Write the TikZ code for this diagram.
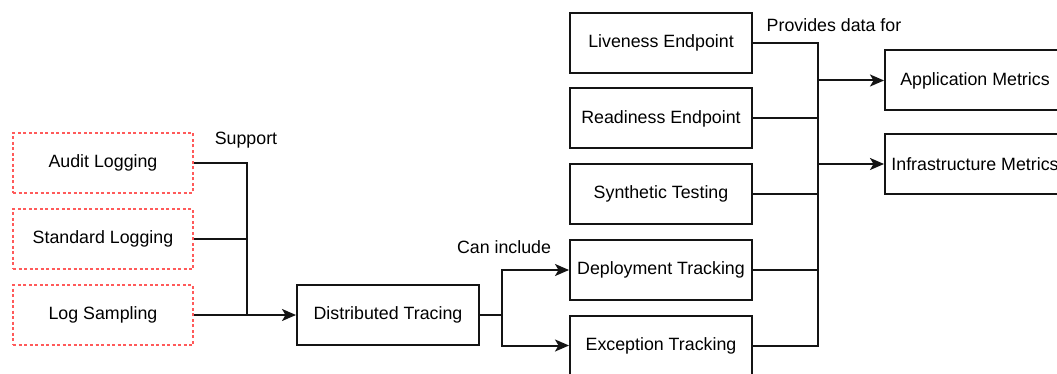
\documentclass[tikz,border=0pt]{standalone}
\usepackage{fontspec}
\setmainfont{Liberation Sans}
\usetikzlibrary{arrows.meta}
\definecolor{dotred}{RGB}{255,90,90}
\definecolor{linegray}{RGB}{20,20,20}
\begin{document}
\begin{tikzpicture}[x=1pt,y=-1pt,
  box/.style={draw=linegray,line width=2pt,minimum width=180pt,minimum height=60pt,inner sep=0pt,font=\fontsize{17.8}{20}\selectfont},
  redbox/.style={box,draw=dotred,dash pattern=on 3pt off 2.5pt,line width=1.8pt},
  conn/.style={draw=linegray,line width=2pt},
  arr/.style={conn,-{Stealth[length=14pt,width=12pt,inset=3.5pt]}},
  lbl/.style={font=\fontsize{17.8}{20}\selectfont,inner sep=0pt}]
\useasboundingbox (0,0) rectangle (1057,374);
\fill[white] (0,0) rectangle (1057,374);
% left column
\node[redbox] (audit) at (103,163) {Audit Logging};
\node[redbox] (std) at (103,239) {Standard Logging};
\node[redbox] (logs) at (103,315) {Log Sampling};
\node[box,minimum width=182pt] (dt) at (388,315) {Distributed Tracing};
% middle column
\node[box,minimum width=182pt] (live) at (661,43) {Liveness Endpoint};
\node[box,minimum width=182pt] (ready) at (661,118.5) {Readiness Endpoint};
\node[box,minimum width=182pt] (synth) at (661,194) {Synthetic Testing};
\node[box,minimum width=182pt] (dep) at (661,270) {Deployment Tracking};
\node[box,minimum width=182pt] (exc) at (661,345.5) {Exception Tracking};
% right column
\node[box,minimum width=180pt] (app) at (975,80.5) {Application Metrics};
\node[box,minimum width=180pt] (infra) at (975,164) {Infrastructure Metrics};
% junctions
\coordinate (j1) at (247,315);
\coordinate (j2) at (502,315);
\coordinate (t1) at (818,80.5);
\coordinate (t2) at (818,164);
% connectors left
\draw[conn] (audit.east) -| (j1);
\draw[conn] (std.east) -| (j1);
\draw[arr] (logs.east) -- (dt.west);
% distributed tracing
\draw[arr] (dt.east) -- (j2) |- (dep.west);
\draw[arr] (dt.east) -- (j2) |- (exc.west);
% right trunk
\draw[conn] (live.east) -| (t1);
\draw[conn] (ready.east) -| (t2);
\draw[conn] (synth.east) -| (t2);
\draw[conn] (dep.east) -| (t2);
\draw[conn] (exc.east) -| (t2);
\draw[conn] (t1) -- (t2);
\draw[arr] (t1) -- (app.west);
\draw[arr] (t2) -- (infra.west);
% labels
\node[lbl] (lsupport) at (246,140) {Support};
\node[lbl] (lcan) at (504,247) {Can include};
\node[lbl] (lprov) at (834,25) {Provides data for};
\end{tikzpicture}
\end{document}
